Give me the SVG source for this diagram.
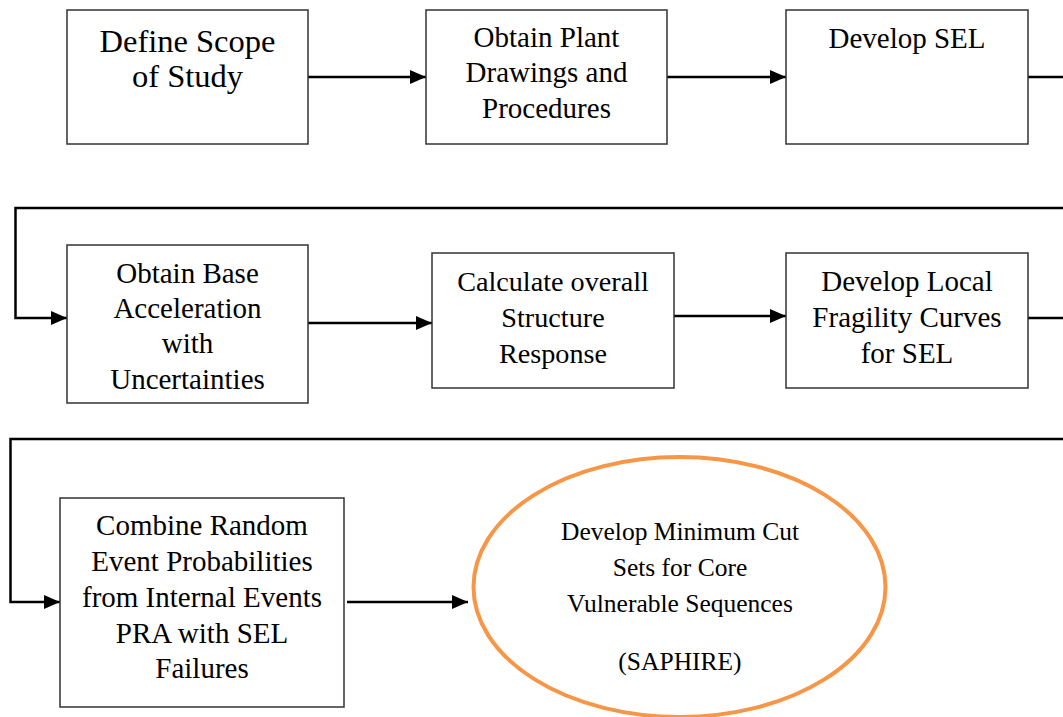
<svg xmlns="http://www.w3.org/2000/svg" width="1063" height="717" viewBox="0 0 1063 717">
<defs>
<marker id="ah" viewBox="0 0 16 14" refX="16" refY="7" markerWidth="16" markerHeight="14" markerUnits="userSpaceOnUse" orient="auto">
<path d="M0,0 L16,7 L0,14 Z" fill="#000"/>
</marker>
<style>
.box{fill:#fff;stroke:#333;stroke-width:1.5}
.t{font-family:"Liberation Serif","Times New Roman",serif;font-size:29px;fill:#000;text-anchor:middle}
.c{fill:none;stroke:#000;stroke-width:2.5}
.a{marker-end:url(#ah)}
</style>
</defs>
<rect width="1063" height="717" fill="#fff"/>
<g id="connectors">
<path class="c a" d="M308,77 H426"/>
<path class="c a" d="M667,77 H786"/>
<path class="c" d="M1028,77 H1063"/>
<path class="c a" d="M1063,208 H15.5 V318 H67"/>
<path class="c a" d="M308,323 H432"/>
<path class="c a" d="M674,316 H786"/>
<path class="c" d="M1028,318 H1063"/>
<path class="c a" d="M1063,439 H10.5 V602 H60"/>
<path class="c a" d="M347,602 H468"/>
</g>
<g id="n1">
<rect class="box" x="67" y="10" width="241" height="134"/>
<text class="t" style="font-size:32.5px" x="187.5" y="52">Define Scope</text>
<text class="t" style="font-size:32.5px" x="187.5" y="87">of Study</text>
</g>
<g id="n2">
<rect class="box" x="426" y="10" width="241" height="134"/>
<text class="t" x="546.5" y="47">Obtain Plant</text>
<text class="t" x="546.5" y="82">Drawings and</text>
<text class="t" x="546.5" y="118">Procedures</text>
</g>
<g id="n3">
<rect class="box" x="786" y="10" width="242" height="134"/>
<text class="t" x="907" y="48">Develop SEL</text>
</g>
<g id="n4">
<rect class="box" x="67" y="245" width="241" height="158"/>
<text class="t" x="187.5" y="283">Obtain Base</text>
<text class="t" x="187.5" y="318">Acceleration</text>
<text class="t" x="187.5" y="353">with</text>
<text class="t" x="187.5" y="389">Uncertainties</text>
</g>
<g id="n5">
<rect class="box" x="432" y="253" width="242" height="135"/>
<text class="t" style="font-size:28.2px" x="553" y="291">Calculate overall</text>
<text class="t" style="font-size:28.2px" x="553" y="327">Structure</text>
<text class="t" style="font-size:28.2px" x="553" y="363">Response</text>
</g>
<g id="n6">
<rect class="box" x="786" y="253" width="242" height="135"/>
<text class="t" x="907" y="291">Develop Local</text>
<text class="t" x="907" y="327">Fragility Curves</text>
<text class="t" x="907" y="363">for SEL</text>
</g>
<g id="n7">
<rect class="box" x="60" y="498" width="284" height="209"/>
<text class="t" x="202" y="535">Combine Random</text>
<text class="t" x="202" y="571">Event Probabilities</text>
<text class="t" x="202" y="607">from Internal Events</text>
<text class="t" x="202" y="643">PRA with SEL</text>
<text class="t" x="202" y="678">Failures</text>
</g>
<g id="n8">
<ellipse cx="679.5" cy="587" rx="206" ry="130" fill="#fff" stroke="#F79646" stroke-width="4"/>
<text class="t" style="font-size:25.5px" x="680" y="540">Develop Minimum Cut</text>
<text class="t" style="font-size:25.5px" x="680" y="576">Sets for Core</text>
<text class="t" style="font-size:25.5px" x="680" y="612">Vulnerable Sequences</text>
<text class="t" style="font-size:25.5px" x="680" y="670">(SAPHIRE)</text>
</g>
</svg>
